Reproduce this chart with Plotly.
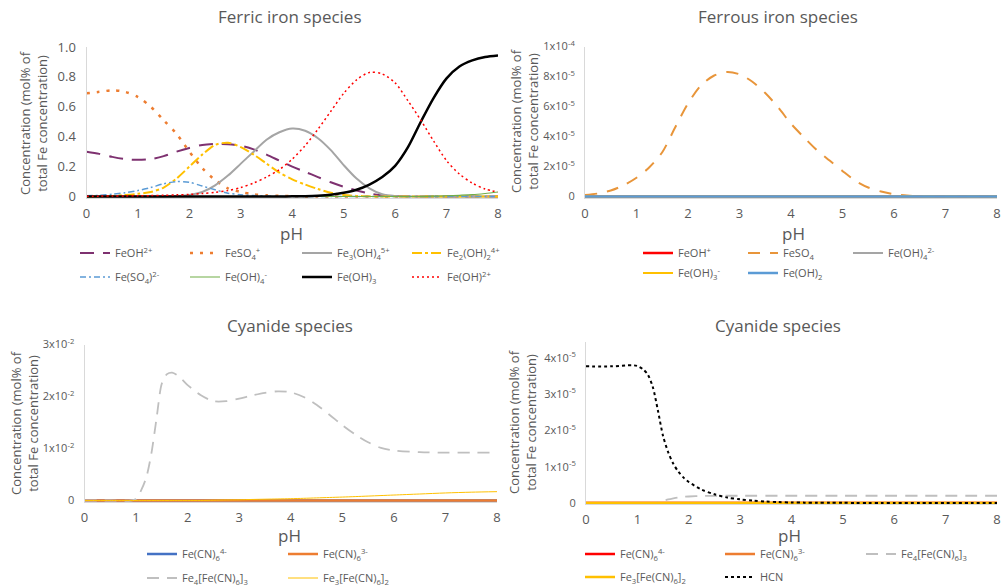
import plotly.graph_objects as go

W, H = 1002, 588
FONT = "Open Sans"
GREY_TXT = "#595959"

# ---------------- data ----------------
ph_q = [0.0, 0.25, 0.5, 0.75, 1.0, 1.25, 1.5, 1.75, 2.0, 2.25, 2.5, 2.75, 3.0, 3.25, 3.5, 3.75,
        4.0, 4.25, 4.5, 4.75, 5.0, 5.25, 5.5, 5.75, 6.0, 6.25, 6.5, 6.75, 7.0, 7.25, 7.5, 7.75, 8.0]

# Ferric iron species (fraction)
ferric_feoh = [0.30, 0.285, 0.265, 0.25, 0.245, 0.25, 0.27, 0.30, 0.325, 0.345, 0.352, 0.35, 0.34, 0.315,
               0.28, 0.24, 0.20, 0.165, 0.13, 0.095, 0.065, 0.04, 0.02, 0.008, 0.003, 0.001,
               0, 0, 0, 0, 0, 0, 0]
ferric_feso4 = [0.69, 0.70, 0.71, 0.70, 0.665, 0.60, 0.51, 0.42, 0.30, 0.19, 0.11, 0.055, 0.03, 0.015,
                0.008, 0.004, 0.002, 0, 0, 0, 0, 0, 0, 0, 0, 0, 0, 0, 0, 0, 0, 0, 0]
ferric_fe3oh4 = [0, 0, 0, 0, 0, 0, 0, 0.003, 0.01, 0.03, 0.075, 0.14, 0.22, 0.30, 0.38, 0.43, 0.455,
                 0.44, 0.39, 0.31, 0.21, 0.12, 0.055, 0.015, 0.003, 0, 0, 0, 0, 0, 0, 0, 0]
ferric_fe2oh2 = [0.0, 0.001, 0.004, 0.01, 0.018, 0.03, 0.06, 0.12, 0.20, 0.28, 0.345, 0.36, 0.33, 0.28,
                 0.22, 0.16, 0.115, 0.08, 0.05, 0.025, 0.01, 0.004, 0.001, 0, 0, 0, 0, 0, 0, 0, 0, 0, 0]
ferric_feso42 = [0.005, 0.008, 0.015, 0.025, 0.04, 0.06, 0.085, 0.10, 0.095, 0.07, 0.045, 0.022, 0.012,
                 0.006, 0.003, 0.001, 0, 0, 0, 0, 0, 0, 0, 0, 0, 0, 0, 0, 0, 0, 0, 0, 0]
ferric_feoh4 = [0, 0, 0, 0, 0, 0, 0, 0, 0, 0, 0, 0, 0, 0, 0, 0, 0, 0, 0, 0, 0, 0, 0, 0, 0, 0, 0,
                0.002, 0.005, 0.008, 0.012, 0.02, 0.03]
ferric_feoh3 = [0, 0, 0, 0, 0, 0, 0, 0, 0, 0, 0, 0, 0, 0, 0, 0, 0.001, 0.002, 0.005, 0.012, 0.025,
                0.045, 0.08, 0.13, 0.205, 0.33, 0.50, 0.66, 0.79, 0.87, 0.91, 0.933, 0.943]
ferric_feoh2 = [0.002, 0.0025, 0.003, 0.004, 0.005, 0.006, 0.008, 0.011, 0.014, 0.02, 0.028, 0.04, 0.06,
                0.09, 0.13, 0.18, 0.25, 0.34, 0.45, 0.57, 0.69, 0.78, 0.83, 0.82, 0.76, 0.64, 0.51,
                0.37, 0.24, 0.15, 0.09, 0.05, 0.03]

# Ferrous iron species
ferrous_feoh = [0.0] * 33
ferrous_feso4 = [1.0e-6, 2.0e-6, 4.0e-6, 7.5e-6, 1.25e-5, 1.95e-5, 2.95e-5, 4.6e-5, 6.2e-5, 7.4e-5,
                 8.05e-5, 8.3e-5, 8.15e-5, 7.65e-5, 6.9e-5, 5.95e-5, 4.85e-5, 3.95e-5, 3.1e-5, 2.4e-5,
                 1.7e-5, 1.05e-5, 6.0e-6, 3.3e-6, 1.6e-6, 6.0e-7, 2.0e-7, 0, 0, 0, 0, 0, 0]
ferrous_feoh4 = [0.0] * 33
ferrous_feoh3 = [0.0] * 33
ferrous_feoh2 = [0.0] * 33

# Cyanide species
ph_cn = [0.0, 0.5, 0.9, 1.0, 1.1, 1.2, 1.3, 1.4, 1.5, 1.6, 1.7, 1.8, 1.9, 2.0, 2.25, 2.5, 2.75,
         3.0, 3.25, 3.5, 3.75, 4.0, 4.25, 4.5, 4.75, 5.0, 5.25, 5.5, 5.75, 6.0, 6.5, 7.0, 7.5, 8.0]
cnA_fecn6_4 = [0.0] * 34
cnA_fecn6_3 = [0.0] * 34
cnA_fe4 = [0, 0, 0, 0.0003, 0.002, 0.0045, 0.0092, 0.016, 0.0225, 0.0243, 0.0246, 0.0241, 0.0232,
           0.0222, 0.0203, 0.0191, 0.0191, 0.0196, 0.0202, 0.0207, 0.021, 0.0208, 0.0199, 0.0184,
           0.0165, 0.0145, 0.0127, 0.0112, 0.0101, 0.0096, 0.0093, 0.0092, 0.0092, 0.0092]
cnA_fe3 = [0, 0, 0, 0, 0, 0, 0, 0, 0, 0, 0, 0, 0, 0, 0, 0.00005, 0.0001, 0.00013, 0.0002, 0.00025,
           0.0003, 0.00035, 0.00042, 0.0005, 0.00058, 0.00066, 0.00075, 0.00085, 0.00095, 0.00105,
           0.00125, 0.00145, 0.0016, 0.0017]

cnB_fecn6_4 = [0.0] * 34
cnB_fecn6_3 = [0.0] * 34
cnB_fe4 = [0, 0, 0, 0, 0, 0, 0, 2e-7, 6e-7, 1.0e-6, 1.3e-6, 1.55e-6, 1.7e-6, 1.8e-6, 1.92e-6, 1.97e-6,
           2e-6, 2e-6, 2e-6, 2e-6, 2e-6, 2e-6, 2e-6, 2e-6, 2e-6, 2e-6, 2e-6, 2e-6, 2e-6, 2e-6, 2e-6,
           2e-6, 2e-6, 2e-6]
cnB_fe3 = [0.0] * 34
cnB_hcn = [3.77e-5, 3.77e-5, 3.8e-5, 3.78e-5, 3.7e-5, 3.55e-5, 3.2e-5, 2.55e-5, 1.85e-5, 1.4e-5,
           1.08e-5, 8.6e-6, 7.0e-6, 5.8e-6, 3.7e-6, 2.4e-6, 1.5e-6, 1.0e-6, 6.5e-7, 4.0e-7, 2.5e-7,
           1.5e-7, 1.0e-7, 7e-8, 5e-8, 4e-8, 3e-8, 2e-8, 2e-8, 2e-8, 2e-8, 2e-8, 2e-8, 2e-8]

x_ticks = [0, 1, 2, 3, 4, 5, 6, 7, 8]
tl_ticks = [0, 0.2, 0.4, 0.6, 0.8, 1.0]
tl_ticktext = ["0", "0.2", "0.4", "0.6", "0.8", "1.0"]
tr_ticks = [0, 2e-5, 4e-5, 6e-5, 8e-5, 1e-4]
tr_ticktext = ["0", "2x10<sup>-5</sup>", "4x10<sup>-5</sup>", "6x10<sup>-5</sup>", "8x10<sup>-5</sup>",
               "1x10<sup>-4</sup>"]
bl_ticks = [0, 0.01, 0.02, 0.03]
bl_ticktext = ["0", "1x10<sup>-2</sup>", "2x10<sup>-2</sup>", "3x10<sup>-2</sup>"]
br_ticks = [0, 1e-5, 2e-5, 3e-5, 4e-5]
br_ticktext = ["0", "1x10<sup>-5</sup>", "2x10<sup>-5</sup>", "3x10<sup>-5</sup>", "4x10<sup>-5</sup>"]

# ---------------- layout helpers ----------------
fig = go.Figure()

# panel geometry in pixels: x of pH 0, x of pH 8, y of value 0, y of ref value, ref value, lo, hi
panels = {
    "1": dict(x0=86.5, x8=498, y0=196.5, yref=47, vref=1.0, lo=-0.01, hi=1.0,
              tv=tl_ticks, tt=tl_ticktext, ts=13),
    "2": dict(x0=585, x8=997, y0=196.5, yref=46.5, vref=1e-4, lo=-1.3e-6, hi=1e-4,
              tv=tr_ticks, tt=tr_ticktext, ts=11),
    "3": dict(x0=84.5, x8=497, y0=500.5, yref=344.5, vref=0.03, lo=-0.0003, hi=0.03,
              tv=bl_ticks, tt=bl_ticktext, ts=11),
    "4": dict(x0=586, x8=997, y0=503, yref=358, vref=4e-5, lo=-4e-7, hi=4.45e-5,
              tv=br_ticks, tt=br_ticktext, ts=11),
}

for k, p in panels.items():
    s = (p["y0"] - p["yref"]) / p["vref"]
    ybot = p["y0"] - p["lo"] * s
    ytop = p["y0"] - p["hi"] * s
    xname = "xaxis" if k == "1" else "xaxis" + k
    yname = "yaxis" if k == "1" else "yaxis" + k
    anchor_x = "y" if k == "1" else "y" + k
    anchor_y = "x" if k == "1" else "x" + k
    fig.layout[xname] = dict(
        domain=[p["x0"] / W, p["x8"] / W], range=[0, 8], anchor=anchor_x,
        tickvals=x_ticks, ticktext=[str(v) for v in x_ticks], ticks="",
        showline=True, linecolor="#D9D9D9", linewidth=1, showgrid=False, zeroline=False,
        tickfont=dict(family=FONT, size=13, color=GREY_TXT), ticklabelstandoff=3,
        automargin=False,
    )
    fig.layout[yname] = dict(
        domain=[1 - ybot / H, 1 - ytop / H], range=[p["lo"], p["hi"]], anchor=anchor_y,
        tickvals=p["tv"], ticktext=p["tt"], ticks="",
        showline=True, linecolor="#D9D9D9", linewidth=1, showgrid=False, zeroline=False,
        tickfont=dict(family=FONT, size=p["ts"], color=GREY_TXT), ticklabelstandoff=7,
        automargin=False,
    )

legend_count = [0]


def add(panel, x, y, name, color, width, dash, lx, ly):
    legend_count[0] += 1
    n = legend_count[0]
    lname = "legend" if n == 1 else "legend%d" % n
    xa = "x" if panel == "1" else "x" + panel
    ya = "y" if panel == "1" else "y" + panel
    fig.add_trace(go.Scatter(
        x=x, y=y, name=name, mode="lines", xaxis=xa, yaxis=ya, legend=lname,
        line=dict(color=color, width=width, dash=dash, shape="spline", smoothing=0.8),
        hoverinfo="skip",
    ))
    fig.layout[lname] = dict(
        x=(lx - 5) / W, y=1 - ly / H, xanchor="left", yanchor="middle",
        orientation="h", bgcolor="rgba(0,0,0,0)", borderwidth=0,
        font=dict(family=FONT, size=11, color=GREY_TXT), itemwidth=30,
    )


# Ferric
add("1", ph_q, ferric_feoh, "FeOH<sup>2+</sup>", "#7E3170", 2, "14px,9px", 80, 253)
add("1", ph_q, ferric_feso4, "FeSO<sub>4</sub><sup>+</sup>", "#ED7D31", 2.5, "3px,7px", 190, 253)
add("1", ph_q, ferric_fe3oh4, "Fe<sub>3</sub>(OH)<sub>4</sub><sup>5+</sup>", "#A5A5A5", 2, "solid", 302, 253)
add("1", ph_q, ferric_fe2oh2, "Fe<sub>2</sub>(OH)<sub>2</sub><sup>4+</sup>", "#FFC000", 2, "10px,3px,3px,3px", 412, 253)
add("1", ph_q, ferric_feso42, "Fe(SO<sub>4</sub>)<sup>2-</sup>", "#5B9BD5", 1.5, "6px,3px,2px,3px", 80, 277)
add("1", ph_q, ferric_feoh4, "Fe(OH)<sub>4</sub><sup>-</sup>", "#70AD47", 1.2, "solid", 190, 277)
add("1", ph_q, ferric_feoh3, "Fe(OH)<sub>3</sub>", "#000000", 2.5, "solid", 302, 277)
add("1", ph_q, ferric_feoh2, "Fe(OH)<sup>2+</sup>", "#FF0000", 1.5, "2px,3px", 412, 277)

# Ferrous
add("2", ph_q, ferrous_feoh, "FeOH<sup>+</sup>", "#FF0000", 2.5, "solid", 643, 253)
add("2", ph_q, ferrous_feso4, "FeSO<sub>4</sub>", "#E8953A", 2, "12px,10px", 748, 253)
add("2", ph_q, ferrous_feoh4, "Fe(OH)<sub>4</sub><sup>2-</sup>", "#A5A5A5", 2, "solid", 853, 253)
add("2", ph_q, ferrous_feoh3, "Fe(OH)<sub>3</sub><sup>-</sup>", "#FFC000", 2, "solid", 643, 273)
add("2", ph_q, ferrous_feoh2, "Fe(OH)<sub>2</sub>", "#5B9BD5", 2.5, "solid", 748, 273)

# Cyanide A
add("3", ph_cn, cnA_fecn6_4, "Fe(CN)<sub>6</sub><sup>4-</sup>", "#4472C4", 2.5, "solid", 147, 554)
add("3", ph_cn, cnA_fecn6_3, "Fe(CN)<sub>6</sub><sup>3-</sup>", "#ED7D31", 2.5, "solid", 288, 554)
add("3", ph_cn, cnA_fe4, "Fe<sub>4</sub>[Fe(CN)<sub>6</sub>]<sub>3</sub>", "#BFBFBF", 1.8, "12px,8px", 147, 578)
add("3", ph_cn, cnA_fe3, "Fe<sub>3</sub>[Fe(CN)<sub>6</sub>]<sub>2</sub>", "#FFC000", 1, "solid", 288, 578)

# Cyanide B
add("4", ph_cn, cnB_fecn6_4, "Fe(CN)<sub>6</sub><sup>4-</sup>", "#FF0000", 2.5, "solid", 585, 554)
add("4", ph_cn, cnB_fecn6_3, "Fe(CN)<sub>6</sub><sup>3-</sup>", "#ED7D31", 2.5, "solid", 725, 554)
add("4", ph_cn, cnB_fe4, "Fe<sub>4</sub>[Fe(CN)<sub>6</sub>]<sub>3</sub>", "#BFBFBF", 1.8, "12px,8px", 866, 554)
add("4", ph_cn, cnB_fe3, "Fe<sub>3</sub>[Fe(CN)<sub>6</sub>]<sub>2</sub>", "#FFC000", 2.5, "solid", 585, 577)
add("4", ph_cn, cnB_hcn, "HCN", "#000000", 2, "3px,3px", 725, 577)

# ---------------- annotations ----------------
ann = []


def text(x, y, t, size, angle=0):
    ann.append(dict(x=x / W, y=1 - y / H, xref="paper", yref="paper", text=t, showarrow=False,
                    xanchor="center", yanchor="middle", textangle=angle,
                    font=dict(family=FONT, size=size, color=GREY_TXT)))


ytitle = "Concentration (mol% of<br>total Fe concentration)"
text(290, 17, "Ferric iron species", 17)
text(778, 17, "Ferrous iron species", 17)
text(290, 325, "Cyanide species", 17)
text(778, 325, "Cyanide species", 17)
text(291, 233, "pH", 17)
text(793, 233, "pH", 17)
text(289, 535, "pH", 17)
text(789, 535, "pH", 17)
text(34, 123, ytitle, 13, -90)
text(524, 121, ytitle, 13, -90)
text(24, 423, ytitle, 13, -90)
text(522, 422, ytitle, 13, -90)

fig.update_layout(
    width=W, height=H, margin=dict(l=0, r=0, t=0, b=0, autoexpand=False),
    paper_bgcolor="white", plot_bgcolor="white", showlegend=True,
    annotations=ann, font=dict(family=FONT, color=GREY_TXT),
)

fig.write_html("out.html", config={"displayModeBar": False},
               post_script="document.body.style.margin='0';")
